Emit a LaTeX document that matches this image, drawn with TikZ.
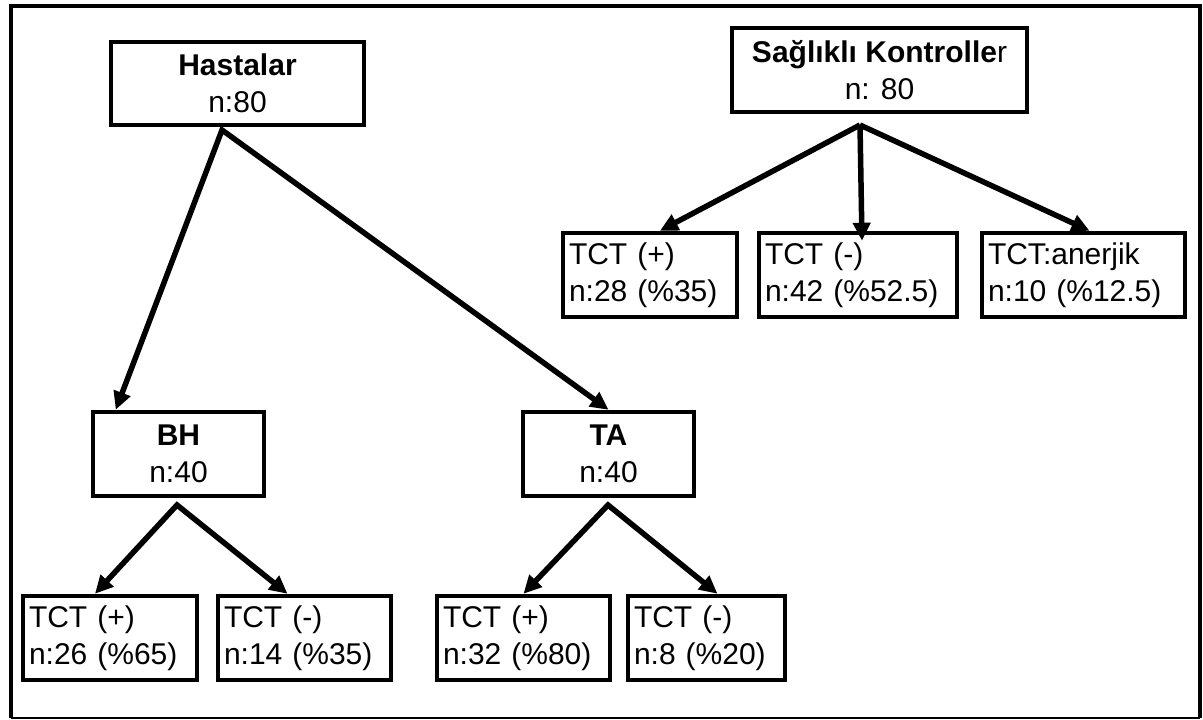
\documentclass[tikz,border=0pt]{standalone}
\usepackage{fontspec}
\setmainfont{Liberation Sans}
\usepackage{tikz}
\usetikzlibrary{arrows.meta}

\begin{document}
\begin{tikzpicture}[x=1pt,y=1pt,yscale=-1,
  box/.style={draw, line width=4.5pt, minimum height=84pt, font=\fontsize{30}{37}\selectfont},
  grp/.style={box, align=center, inner sep=0pt},
  leaf/.style={box, align=left, inner xsep=6pt, inner ysep=0pt},
  arr/.style={line width=5.5pt, -{Triangle[length=18pt,width=17pt]}},
  fork/.style={line width=5.5pt, line join=miter, {Triangle[length=18pt,width=17pt]}-{Triangle[length=18pt,width=17pt]}}]
\useasboundingbox (0,0) rectangle (1203,720);

%Shape: Frame
\draw [line width=4.5pt, line join=miter] (11,718) |- (1200,6) -- (1200,718) ;
\draw [line width=1.5pt] (11,718) -- (1200,718) ;

% Text Node
\node [grp, minimum width=253pt, minimum height=83pt] (hast) at (237.5,83.5) {\textbf{Hastalar}\\n:80};
% Text Node
\node [grp, minimum width=295pt] (sag) at (879.5,70) {\textbf{Sağlıklı Kontrolle}r\\n: 80};
% Text Node
\node [leaf, text width=162pt] (sp) at (650,275) {TCT (+)\\n:28 (\%35)};
% Text Node
\node [leaf, text width=186pt] (sn) at (858,275) {TCT (-)\\n:42 (\%52.5)};
% Text Node
\node [leaf, text width=191pt] (sa) at (1083.5,275) {TCT:anerjik\\n:10 (\%12.5)};
% Text Node
\node [grp, minimum width=171pt] (bh) at (178.5,454) {\textbf{BH}\\n:40};
% Text Node
\node [grp, minimum width=171pt] (ta) at (608.5,454) {\textbf{TA}\\n:40};
% Text Node
\node [leaf, text width=162pt] (bp) at (110,638) {TCT (+)\\n:26 (\%65)};
% Text Node
\node [leaf, text width=161pt] (bn) at (304.5,638) {TCT (-)\\n:14 (\%35)};
% Text Node
\node [leaf, text width=161pt] (tp) at (523.5,638) {TCT (+)\\n:32 (\%80)};
% Text Node
\node [leaf, text width=145pt] (tn) at (706.5,638) {TCT (-)\\n:8 (\%20)};

\coordinate (hfork) at (222,130);
\coordinate (sfork) at (860,125);
\coordinate (bfork) at (177,505);
\coordinate (tfork) at (608,505);

%Straight Lines
\draw [fork] ([xshift=25pt]bh.north west) -- (hfork) -- (ta.north) ;
%Straight Lines
\draw [arr] (sfork) -- ([xshift=10pt]sp.north) ;
\draw [arr] (sfork) -- ([xshift=4pt,yshift=10pt]sn.north) ;
\draw [arr] (sfork) -- ([xshift=6pt]sa.north) ;
%Straight Lines
\draw [fork] ([xshift=-15pt]bp.north) -- (bfork) -- ([xshift=-17pt]bn.north) ;
%Straight Lines
\draw [fork] (tp.north) -- (tfork) -- ([xshift=11pt]tn.north) ;

\end{tikzpicture}
\end{document}
